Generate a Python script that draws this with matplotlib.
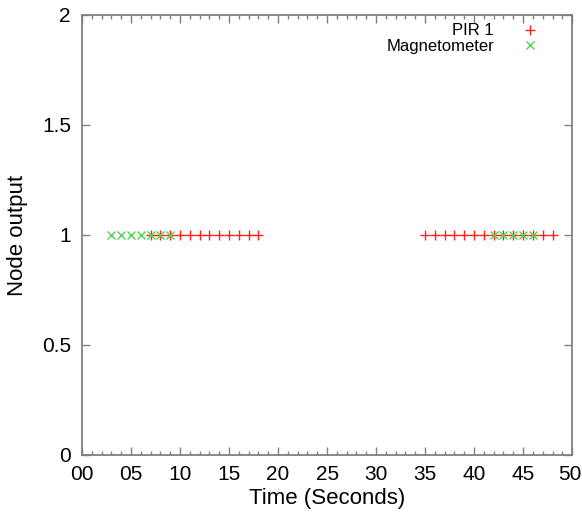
import numpy as np
import matplotlib.pyplot as plt
import matplotlib.transforms as mtransforms
from matplotlib.ticker import MultipleLocator, FormatStrFormatter

plt.rcParams['font.family'] = ['Liberation Sans', 'DejaVu Sans']

# data
pir_t = [7, 8, 9, 10, 11, 12, 13, 14, 15, 16, 17, 18,
         35, 36, 37, 38, 39, 40, 41, 42, 43, 44, 45, 46, 47, 48]
pir_v = [1] * len(pir_t)
mag_t = [3, 4, 5, 6, 7, 8, 9, 42, 43, 44, 45, 46]
mag_v = [1] * len(mag_t)

fig = plt.figure(figsize=(5.82, 5.17), dpi=100)
ax = fig.add_axes([0.141, 0.120, 0.842, 0.851])

ax.plot(pir_t, pir_v, '+', color='#ff2020', markersize=7, markeredgewidth=1.0, label='PIR 1')
ax.plot(mag_t, mag_v, 'x', color='#55d055', markersize=6, markeredgewidth=1.0, label='Magnetometer')

ax.set_xlim(0, 50)
ax.set_ylim(0, 2)
ax.xaxis.set_major_locator(MultipleLocator(5))
ax.xaxis.set_minor_locator(MultipleLocator(1))
ax.xaxis.set_major_formatter(FormatStrFormatter('%02d'))
ax.set_yticks([0, 0.5, 1, 1.5, 2])
ax.set_yticklabels(['0', '0.5', '1', '1.5', '2'])

ax.tick_params(which='both', direction='in', top=True, right=True, color='#808080', labelsize=15)
ax.tick_params(which='major', length=6, width=1)
ax.tick_params(which='minor', length=3, width=1)
ax.tick_params(axis='x', pad=7)
ax.tick_params(axis='y', pad=8)
for s in ax.spines.values():
    s.set_color('#808080')
    s.set_linewidth(1.3)

ax.set_xlabel('Time (Seconds)', fontsize=16, labelpad=3)
ax.set_ylabel('Node output', fontsize=16, labelpad=10)

ax.legend(loc='upper right', frameon=False, markerfirst=False, fontsize=12,
          handlelength=1.5, handletextpad=1.4, labelspacing=0.05,
          bbox_to_anchor=(0.97, 1.015))

# keep the "50" label inside the picture
fig.canvas.draw()
lab = ax.xaxis.get_major_ticks()[-1].label1
if lab.get_text() != '50':
    lab = [t.label1 for t in ax.xaxis.get_major_ticks() if t.label1.get_text() == '50'][0]
lab.set_horizontalalignment('right')
lab.set_transform(lab.get_transform() + mtransforms.ScaledTranslation(9 / 100, 0, fig.dpi_scale_trans))

fig.savefig('out.png', dpi=100)
